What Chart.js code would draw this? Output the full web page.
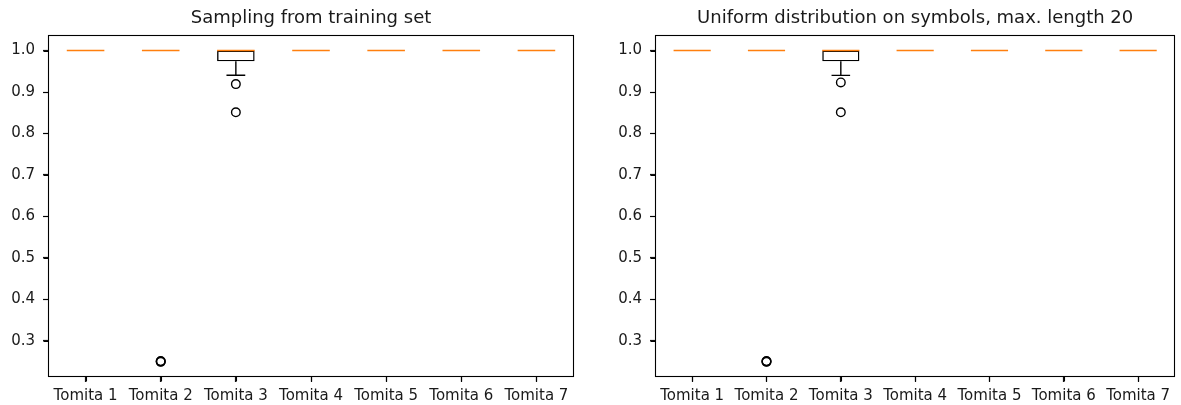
<!DOCTYPE html>
<html>
<head>
<meta charset="utf-8">
<script src="https://cdn.jsdelivr.net/npm/chart.js@4/dist/chart.umd.min.js"></script>
<style>
  html, body { margin: 0; padding: 0; background: #fff; }
  body { width: 1181px; height: 405px; position: relative; overflow: hidden; }
  canvas { position: absolute; top: 0; }
  #left { left: 0; }
  #right { left: 607px; }
</style>
</head>
<body>
<canvas id="left" width="590" height="405"></canvas>
<canvas id="right" width="574" height="405"></canvas>
<script>
// Categories and y ticks
const categories = ['Tomita 1', 'Tomita 2', 'Tomita 3', 'Tomita 4', 'Tomita 5', 'Tomita 6', 'Tomita 7'];
const yTicks = [0.3, 0.4, 0.5, 0.6, 0.7, 0.8, 0.9, 1.0];

// Sampling from training set: box statistics per grammar
const trainQ1 = [1.0, 1.0, 0.974, 1.0, 1.0, 1.0, 1.0];
const trainMedian = [1.0, 1.0, 1.0, 1.0, 1.0, 1.0, 1.0];
const trainQ3 = [1.0, 1.0, 1.0, 1.0, 1.0, 1.0, 1.0];
const trainWhiskerLow = [1.0, 1.0, 0.9405, 1.0, 1.0, 1.0, 1.0];
const trainWhiskerHigh = [1.0, 1.0, 1.0, 1.0, 1.0, 1.0, 1.0];
const trainOutliers = [[], [0.249, 0.25, 0.251], [0.919, 0.851], [], [], [], []];

// Uniform distribution on symbols, max. length 20
const unifQ1 = [1.0, 1.0, 0.974, 1.0, 1.0, 1.0, 1.0];
const unifMedian = [1.0, 1.0, 1.0, 1.0, 1.0, 1.0, 1.0];
const unifQ3 = [1.0, 1.0, 1.0, 1.0, 1.0, 1.0, 1.0];
const unifWhiskerLow = [1.0, 1.0, 0.94, 1.0, 1.0, 1.0, 1.0];
const unifWhiskerHigh = [1.0, 1.0, 1.0, 1.0, 1.0, 1.0, 1.0];
const unifOutliers = [[], [0.249, 0.25, 0.251], [0.923, 0.851], [], [], [], []];

const FONT = 'DejaVu Sans';
const TEXT = '#1a1a1a';
const LINE_W = 1.4;
const MEDIAN_COLOR = '#ff7f0e';
const TICK_LEN = 5;

// Whiskers, caps and medians drawn over the box bodies
const boxGlyphs = {
  id: 'boxGlyphs',
  afterDatasetsDraw(chart, args, opts) {
    const { ctx, scales: { x, y } } = chart;
    const bars = chart.getDatasetMeta(0).data;
    ctx.save();
    ctx.lineCap = 'butt';
    bars.forEach((bar, i) => {
      const cx = x.getPixelForValue(i);
      const w = bar.width;
      ctx.lineWidth = LINE_W;
      ctx.strokeStyle = '#000';
      // whisker and cap on each side, skipped when it has no length
      [[opts.q1[i], opts.low[i]], [opts.q3[i], opts.high[i]]].forEach(([from, to]) => {
        if (from === to) return;
        const y0 = y.getPixelForValue(from);
        const y1 = y.getPixelForValue(to);
        ctx.beginPath();
        ctx.moveTo(cx, y0); ctx.lineTo(cx, y1);
        ctx.moveTo(cx - w / 4, y1); ctx.lineTo(cx + w / 4, y1);
        ctx.stroke();
      });
      // median, snapped to the pixel grid so it stays crisp
      const yMed = Math.floor(y.getPixelForValue(opts.median[i])) + 0.5;
      ctx.strokeStyle = MEDIAN_COLOR;
      ctx.lineWidth = 1.5;
      ctx.beginPath();
      ctx.moveTo(cx - w / 2, yMed); ctx.lineTo(cx + w / 2, yMed);
      ctx.stroke();
    });
    ctx.restore();
  }
};

// Rectangular frame around the plotting area, with outward tick marks
const frame = {
  id: 'frame',
  afterDraw(chart) {
    const { ctx, chartArea: a, scales: { x, y } } = chart;
    ctx.save();
    ctx.strokeStyle = '#000';
    ctx.lineWidth = 1.1;
    const left = Math.round(a.left) + 0.5;
    const top = Math.round(a.top) + 0.5;
    const right = Math.round(a.right) - 0.5;
    const bottom = Math.round(a.bottom) - 0.5;
    ctx.strokeRect(left, top, right - left, bottom - top);
    ctx.beginPath();
    x.ticks.forEach((t, i) => {
      const px = Math.round(x.getPixelForTick(i)) + 0.5;
      ctx.moveTo(px, bottom); ctx.lineTo(px, bottom + TICK_LEN);
    });
    y.ticks.forEach((t, i) => {
      const py = Math.round(y.getPixelForTick(i)) + 0.5;
      ctx.moveTo(left, py); ctx.lineTo(left - TICK_LEN, py);
    });
    ctx.stroke();
    ctx.restore();
  }
};

// Tick spacing only; the marks themselves are drawn with the frame
function tickGrid() {
  return {
    display: true,
    offset: false,
    drawOnChartArea: false,
    drawTicks: true,
    tickLength: TICK_LEN,
    tickColor: '#111',
    tickWidth: 1.2,
    color: '#111',
    lineWidth: 1
  };
}

function makeBoxChart(id, title, q1, median, q3, low, high, outliers, rightPad) {
  const outlierPoints = [];
  outliers.forEach((vals, i) => vals.forEach(v => outlierPoints.push({ x: categories[i], y: v })));
  return new Chart(document.getElementById(id), {
    type: 'bar',
    data: {
      labels: categories,
      datasets: [
        {
          type: 'bar',
          data: q1.map((v, i) => [v, q3[i]]),
          backgroundColor: 'rgba(0,0,0,0)',
          borderColor: '#000',
          // a collapsed box is only its median line
          borderWidth: c => (c.raw && c.raw[0] === c.raw[1] ? 0 : LINE_W),
          borderSkipped: false,
          barPercentage: 0.5,
          categoryPercentage: 1.0,
          order: 2
        },
        {
          type: 'line',
          data: outlierPoints,
          showLine: false,
          pointStyle: 'circle',
          pointRadius: 4.3,
          pointBorderWidth: 1.4,
          pointBorderColor: '#000',
          pointBackgroundColor: 'rgba(0,0,0,0)',
          order: 1
        }
      ]
    },
    options: {
      responsive: false,
      devicePixelRatio: 1,
      animation: false,
      events: [],
      layout: { padding: { left: 0, right: rightPad, top: 0, bottom: 0 } },
      plugins: {
        legend: { display: false },
        tooltip: { enabled: false },
        title: {
          display: true,
          text: title,
          fullSize: false,
          color: TEXT,
          font: { family: FONT, size: 18, weight: 'normal', lineHeight: 1.2 },
          padding: { top: 7.8, bottom: 5.6 }
        },
        boxGlyphs: { q1, median, q3, low, high }
      },
      scales: {
        x: {
          type: 'category',
          offset: true,
          grid: tickGrid(),
          border: { display: false },
          ticks: { color: TEXT, font: { family: FONT, size: 15 }, padding: 5, maxRotation: 0, minRotation: 0, autoSkip: false },
          afterFit(scale) { scale.height = 28; }
        },
        y: {
          type: 'linear',
          min: 0.2125,
          max: 1.0375,
          grid: tickGrid(),
          border: { display: false },
          afterBuildTicks(scale) { scale.ticks = yTicks.map(v => ({ value: v })); },
          ticks: {
            color: TEXT,
            font: { family: FONT, size: 15 },
            padding: 8,
            callback: v => Number(v).toFixed(1)
          },
          afterFit(scale) { scale.width = 48; }
        }
      }
    },
    plugins: [boxGlyphs, frame]
  });
}

makeBoxChart('left', 'Sampling from training set',
  trainQ1, trainMedian, trainQ3, trainWhiskerLow, trainWhiskerHigh, trainOutliers, 16);
makeBoxChart('right', 'Uniform distribution on symbols, max. length 20',
  unifQ1, unifMedian, unifQ3, unifWhiskerLow, unifWhiskerHigh, unifOutliers, 1);
</script>
</body>
</html>
